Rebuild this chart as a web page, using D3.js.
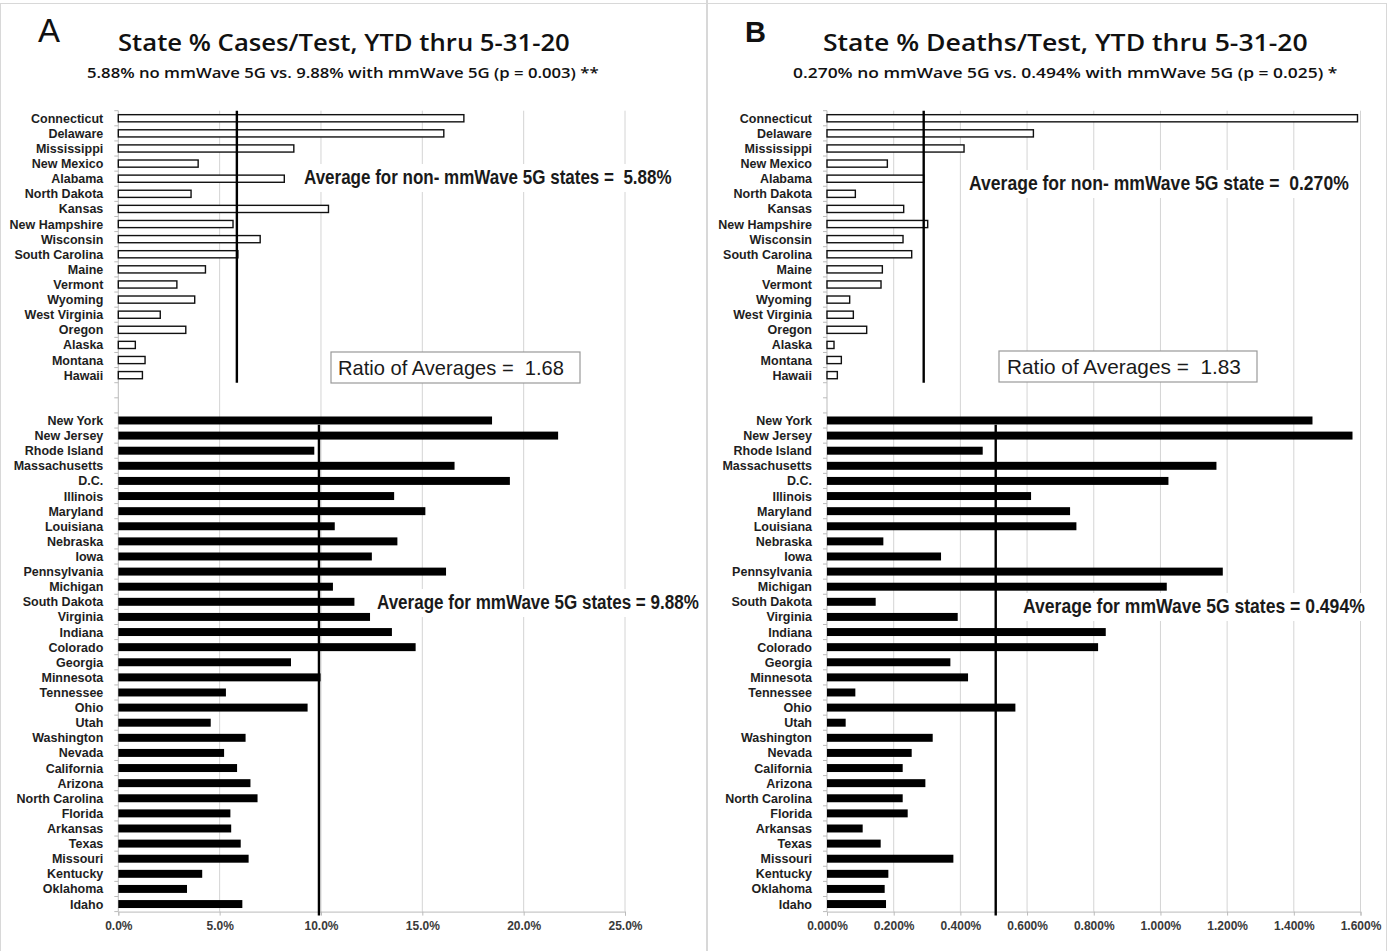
<!DOCTYPE html>
<html>
<head>
  <title>State % Cases and Deaths per Test</title>
  <script src="https://cdn.jsdelivr.net/npm/d3@7"></script>
  <style>
    body { margin: 0; background: #fff; }
    svg { display: block; }
  </style>
</head>
<body>
  <div id="chart"></div>
  <script>
    // states without mmWave 5G (white bars) and with mmWave 5G (black bars)
    const statesNon = ["Connecticut", "Delaware", "Mississippi", "New Mexico", "Alabama", "North Dakota",
      "Kansas", "New Hampshire", "Wisconsin", "South Carolina", "Maine", "Vermont", "Wyoming",
      "West Virginia", "Oregon", "Alaska", "Montana", "Hawaii"];
    const statesMm = ["New York", "New Jersey", "Rhode Island", "Massachusetts", "D.C.", "Illinois",
      "Maryland", "Louisiana", "Nebraska", "Iowa", "Pennsylvania", "Michigan", "South Dakota",
      "Virginia", "Indiana", "Colorado", "Georgia", "Minnesota", "Tennessee", "Ohio", "Utah",
      "Washington", "Nevada", "California", "Arizona", "North Carolina", "Florida", "Arkansas",
      "Texas", "Missouri", "Kentucky", "Oklahoma", "Idaho"];

    // % cases / test
    const casesNon = [17.05, 16.06, 8.66, 3.94, 8.19, 3.59, 10.37, 5.66, 7.0, 5.9, 4.3, 2.89, 3.77,
      2.07, 3.33, 0.84, 1.32, 1.19];
    const casesMm = [18.44, 21.7, 9.67, 16.59, 19.32, 13.61, 15.15, 10.68, 13.77, 12.51, 16.17, 10.59,
      11.65, 12.42, 13.5, 14.67, 8.52, 9.98, 5.31, 9.34, 4.56, 6.28, 5.22, 5.86, 6.52, 6.87, 5.53,
      5.57, 6.04, 6.43, 4.14, 3.39, 6.12];

    // % deaths / test
    const deathsNon = [1.591, 0.619, 0.411, 0.181, 0.29, 0.085, 0.23, 0.302, 0.228, 0.254, 0.166, 0.162,
      0.068, 0.079, 0.119, 0.021, 0.043, 0.031];
    const deathsMm = [1.456, 1.576, 0.467, 1.168, 1.024, 0.612, 0.729, 0.748, 0.169, 0.342, 1.187, 1.019,
      0.146, 0.392, 0.836, 0.813, 0.37, 0.423, 0.085, 0.565, 0.056, 0.317, 0.254, 0.227, 0.295, 0.227,
      0.242, 0.107, 0.161, 0.379, 0.184, 0.173, 0.177];

    // average lines as drawn: [non-mmWave, mmWave]
    const casesAvg = [5.85, 9.9];
    const deathsAvg = [0.29, 0.506];

    const casesTicks = [0, 5, 10, 15, 20, 25];
    const deathsTicks = [0, 0.2, 0.4, 0.6, 0.8, 1.0, 1.2, 1.4, 1.6];

    const W = 1389, H = 951;
    const svg = d3.select("#chart").append("svg").attr("width", W).attr("height", H);

    // outer frame and divider
    svg.append("rect").attr("x", 0.5).attr("y", 3.5).attr("width", 1386).attr("height", 960)
      .attr("fill", "none").attr("stroke", "#d8d8d8");
    svg.append("line").attr("x1", 707).attr("x2", 707).attr("y1", 0).attr("y2", H)
      .attr("stroke", "#d8d8d8").attr("stroke-width", 2);

    const cats = [...statesNon, "_gap1", "_gap2", ...statesMm];
    const y = d3.scaleBand().domain(cats).range([110.7, 911.6]).paddingInner(0.42).paddingOuter(0.21);

    // squeeze a text horizontally so it spans w pixels from x
    function fit(sel, x, yy, w) {
      const natural = sel.node().getComputedTextLength();
      sel.attr("x", 0).attr("y", 0)
        .attr("transform", `translate(${x},${yy}) scale(${w / natural},1)`);
      return sel;
    }

    function panel(p) {
      const g = svg.append("g");
      const x = d3.scaleLinear().domain(p.domain).range(p.range);
      const top = y.range()[0], bottom = y.range()[1];

      g.append("text").attr("x", p.letterX).attr("y", 42)
        .attr("font-family", "Liberation Sans, Arial, sans-serif")
        .attr("font-size", p.letterSize).attr("font-weight", p.letterWeight)
        .attr("fill", "#111").text(p.letter);

      fit(g.append("text")
        .attr("font-family", "Open Sans, Noto Sans, sans-serif").attr("font-size", 24)
        .attr("font-weight", 600).attr("fill", "#111").text(p.title), p.titleX, 51, p.titleW);

      fit(g.append("text")
        .attr("font-family", "Open Sans, Noto Sans, sans-serif").attr("font-size", 14.5)
        .attr("font-weight", 600).attr("fill", "#111").text(p.subtitle), p.subX, 78, p.subW);

      // gridlines
      g.append("g").selectAll("line")
        .data(p.ticks.filter(d => d > 0))
        .join("line")
          .attr("x1", d => x(d)).attr("x2", d => x(d))
          .attr("y1", top).attr("y2", bottom)
          .attr("stroke", "#d4d4d4").attr("stroke-width", 1);

      // x axis
      const xAxis = g.append("g")
        .attr("transform", `translate(0,${bottom})`)
        .call(d3.axisBottom(x).tickValues(p.ticks).tickFormat(p.fmt).tickSize(4).tickPadding(6));
      xAxis.select(".domain").attr("stroke", "#bbb");
      xAxis.selectAll(".tick line").attr("stroke", "#bbb");
      xAxis.selectAll("text")
        .attr("font-family", "Liberation Sans, Arial, sans-serif")
        .attr("font-size", 12).attr("font-weight", "bold").attr("fill", "#3a3a3a");

      // y axis line and ticks at category boundaries
      g.append("line").attr("x1", x(0)).attr("x2", x(0)).attr("y1", top).attr("y2", bottom)
        .attr("stroke", "#bbb");
      g.append("g").selectAll("line")
        .data(d3.range(cats.length + 1))
        .join("line")
          .attr("x1", x(0) - 4).attr("x2", x(0))
          .attr("y1", i => top + i * y.step()).attr("y2", i => top + i * y.step())
          .attr("stroke", "#bbb");

      // state labels
      g.append("g").selectAll("text")
        .data(cats.filter(c => c[0] !== "_"))
        .join("text")
          .attr("x", x(0) - 15)
          .attr("y", d => y(d) + y.bandwidth() / 2)
          .attr("dy", "0.36em")
          .attr("text-anchor", "end")
          .attr("font-family", "Liberation Sans Narrow, Liberation Sans, Arial, sans-serif")
          .attr("font-size", 12.5).attr("font-weight", "bold").attr("fill", "#1e1e1e")
          .text(d => d);

      // bars
      g.append("g").selectAll("rect")
        .data(statesNon.map((s, i) => ({s, v: p.non[i]})))
        .join("rect")
          .attr("x", x(0)).attr("y", d => y(d.s) + 0.8)
          .attr("width", d => x(d.v) - x(0)).attr("height", y.bandwidth() - 1.6)
          .attr("fill", "#fff").attr("stroke", "#111").attr("stroke-width", 1.4);
      g.append("g").selectAll("rect")
        .data(statesMm.map((s, i) => ({s, v: p.mm[i]})))
        .join("rect")
          .attr("x", x(0)).attr("y", d => y(d.s) + 0.4)
          .attr("width", d => x(d.v) - x(0)).attr("height", y.bandwidth() - 0.8)
          .attr("fill", "#000");

      // average lines
      const lastNon = statesNon[statesNon.length - 1];
      g.append("line")
        .attr("x1", x(p.avg[0])).attr("x2", x(p.avg[0]))
        .attr("y1", top).attr("y2", y(lastNon) + y.step() * 0.8)
        .attr("stroke", "#000").attr("stroke-width", 2.4);
      g.append("line")
        .attr("x1", x(p.avg[1])).attr("x2", x(p.avg[1]))
        .attr("y1", y(statesMm[0]) + y.bandwidth()).attr("y2", bottom + 4)
        .attr("stroke", "#000").attr("stroke-width", 2.4);

      // annotations
      p.notes.forEach(n => {
        if (n.box) {
          g.append("rect").attr("x", n.box[0]).attr("y", n.box[1])
            .attr("width", n.box[2]).attr("height", n.box[3])
            .attr("fill", "#fff").attr("stroke", "#999").attr("stroke-width", 1.2);
        } else {
          g.append("rect").attr("x", n.x - 6).attr("y", n.y - 20)
            .attr("width", n.w + 12).attr("height", 28).attr("fill", "#fff");
        }
        fit(g.append("text")
          .attr("font-family", "Liberation Sans, Arial, sans-serif")
          .attr("font-size", 20).attr("font-weight", n.box ? "normal" : "bold")
          .attr("fill", "#1a1a1a").style("white-space", "pre")
          .text(n.text), n.x, n.y, n.w);
      });
    }

    panel({
      letter: "A", letterX: 38, letterSize: 33, letterWeight: "normal",
      title: "State % Cases/Test, YTD thru 5-31-20", titleX: 118, titleW: 452,
      subtitle: "5.88% no mmWave 5G vs. 9.88% with mmWave 5G (p = 0.003) **", subX: 87, subW: 512,
      domain: [0, 25], range: [118.3, 625], ticks: casesTicks, fmt: d => d.toFixed(1) + "%",
      non: casesNon, mm: casesMm, avg: casesAvg,
      notes: [
        {text: "Average for non- mmWave 5G states =  5.88%", x: 304, y: 184, w: 368},
        {text: "Average for mmWave 5G states = 9.88%", x: 377, y: 609, w: 322},
        {text: "Ratio of Averages =  1.68", x: 338, y: 375, w: 226, box: [331, 352, 249, 31]}
      ]
    });

    panel({
      letter: "B", letterX: 745, letterSize: 29, letterWeight: "bold",
      title: "State % Deaths/Test, YTD thru 5-31-20", titleX: 823, titleW: 485,
      subtitle: "0.270% no mmWave 5G vs. 0.494% with mmWave  5G (p = 0.025) *", subX: 793, subW: 545,
      domain: [0, 1.6], range: [827, 1360.5], ticks: deathsTicks, fmt: d => d.toFixed(3) + "%",
      non: deathsNon, mm: deathsMm, avg: deathsAvg,
      notes: [
        {text: "Average for non- mmWave 5G state =  0.270%", x: 969, y: 190, w: 380},
        {text: "Average for mmWave 5G states = 0.494%", x: 1023, y: 613, w: 342},
        {text: "Ratio of Averages =  1.83", x: 1007, y: 374, w: 234, box: [999, 351, 258, 31]}
      ]
    });
  </script>
</body>
</html>
